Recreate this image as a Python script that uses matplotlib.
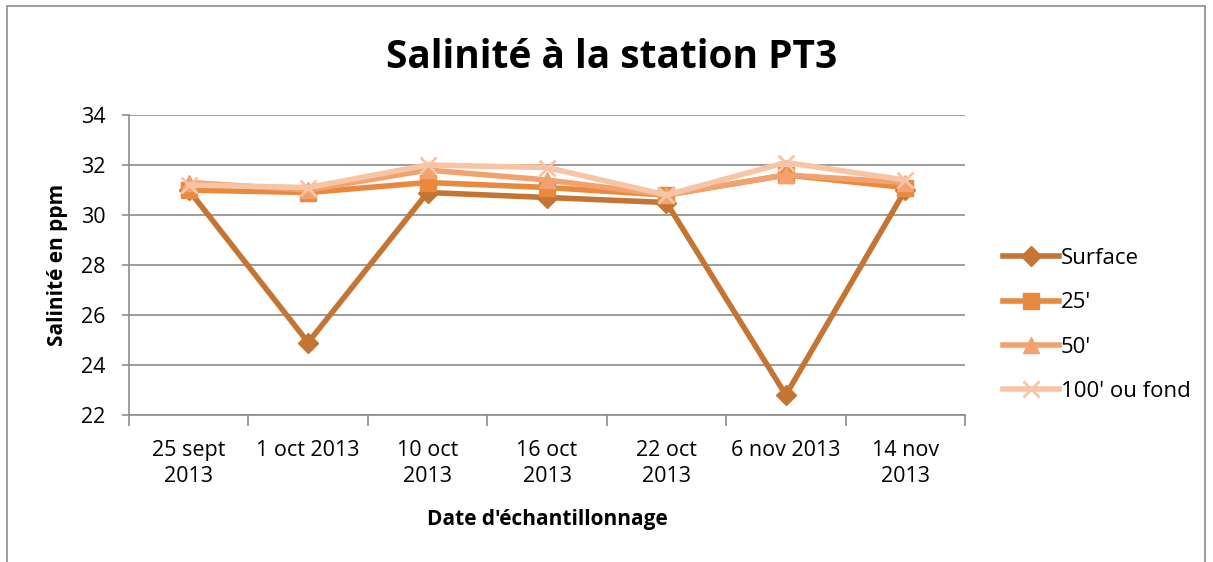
import numpy as np
import matplotlib
matplotlib.use("Agg")
import matplotlib.pyplot as plt
from matplotlib.patches import Rectangle

plt.rcParams['font.family'] = ['Open Sans', 'DejaVu Sans']

dates = ["25 sept\n2013", "1 oct 2013", "10 oct\n2013", "16 oct\n2013",
         "22 oct\n2013", "6 nov 2013", "14 nov\n2013"]
surface = [31.0, 24.9, 30.9, 30.7, 30.5, 22.8, 31.0]
pied25 = [31.0, 30.9, 31.3, 31.1, 30.8, 31.6, 31.1]
pied50 = [31.3, 31.0, 31.8, 31.4, 30.8, 31.6, 31.3]
fond = [31.2, 31.1, 32.0, 31.9, 30.8, 32.1, 31.4]

series = [
    ("Surface", surface, "#C47533", "D", 10),
    ("25'", pied25, "#E8893D", "s", 12),
    ("50'", pied50, "#F2A26E", "^", 12),
    ("100' ou fond", fond, "#F7C5A6", "x", 12),
]

W, H = 1213, 562
fig = plt.figure(figsize=(W / 100, H / 100), dpi=100)
fig.patches.append(Rectangle((7 / W, -0.1), 1198 / W, 1.1 - 6 / H,
                             transform=fig.transFigure, fill=False,
                             edgecolor="#8C8C8C", linewidth=1.2))
ax = fig.add_axes([129 / W, 1 - 415 / H, 836 / W, 300 / H])

x = np.arange(len(dates))
for label, vals, col, mk, ms in series:
    ax.plot(x, vals, color=col, linewidth=4, marker=mk, markersize=ms,
            markeredgewidth=2 if mk == "x" else 1, markeredgecolor=col,
            label=label, solid_joinstyle="round")

ax.set_xlim(-0.5, len(dates) - 0.5)
ax.set_ylim(22, 34)
ax.set_yticks(np.arange(22, 35, 2))
ax.yaxis.grid(True, color="#8C8C8C", linewidth=1.2)
ax.set_axisbelow(True)
ax.set_xticks(np.arange(-0.5, len(dates), 1.0))
ax.set_xticklabels([])
ax.set_xticks(x, minor=True)
ax.set_xticklabels(dates, minor=True, fontsize=15.5, linespacing=1.3)
ax.tick_params(axis="x", which="major", length=8, color="#8C8C8C", width=1.2)
ax.tick_params(axis="x", which="minor", length=0, pad=18)
ax.tick_params(axis="y", length=5, color="#8C8C8C", width=1.2, labelsize=15.5, pad=12)
for s in ["top", "right"]:
    ax.spines[s].set_visible(False)
for s in ["left", "bottom"]:
    ax.spines[s].set_color("#8C8C8C")
    ax.spines[s].set_linewidth(1.2)

fig.text(612 / W, 1 - 58 / H, "Salinité à la station PT3", fontsize=28,
         fontweight="bold", ha="center", va="center")
fig.text(58 / W, 1 - 265 / H, "Salinité en ppm", fontsize=15,
         fontweight="bold", ha="center", va="center", rotation=90)
fig.text(547 / W, 1 - 519 / H, "Date d'échantillonnage", fontsize=15,
         fontweight="bold", ha="center", va="center")

ax.legend(loc="center left", bbox_to_anchor=(1003 / W, 1 - 325 / H),
          bbox_transform=fig.transFigure, frameon=False, borderpad=0,
          borderaxespad=0, fontsize=16, labelspacing=1.05, handlelength=2.5,
          handletextpad=0.1)

fig.savefig("out.png", dpi=100)
